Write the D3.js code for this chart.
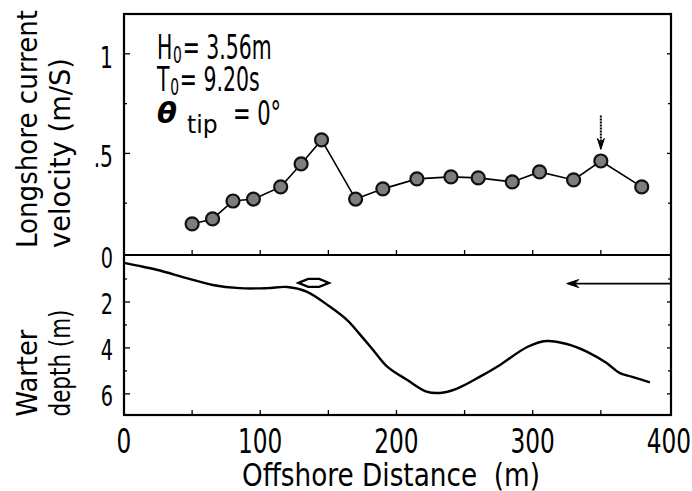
<!DOCTYPE html>
<html>
<head>
<meta charset="utf-8">
<script src="https://cdn.jsdelivr.net/npm/d3@7"></script>
<style>
  html, body { margin: 0; padding: 0; background: #fff; }
  svg { display: block; }
  text { font-family: "DejaVu Sans", "Liberation Sans", sans-serif; fill: #000; white-space: pre; }
</style>
</head>
<body>
<svg id="chart" width="692" height="491"></svg>
<script>
// ---- data ----
const distance = [50, 65, 80, 95, 115, 130, 145, 170, 190, 215, 240, 260, 285, 305, 330, 350, 380];
const velocity = [0.146, 0.171, 0.261, 0.271, 0.332, 0.447, 0.568, 0.271, 0.322, 0.372, 0.382, 0.377, 0.357, 0.407, 0.367, 0.462, 0.332];

const profileX = [0, 10, 24, 46, 65, 85, 105, 120, 134, 151, 164, 173, 183, 193, 208, 222, 232, 244, 261, 276, 296, 310, 325, 340, 354, 364, 373, 386];
const profileDepth = [0.3, 0.42, 0.6, 0.96, 1.26, 1.4, 1.4, 1.35, 1.55, 2.2, 2.8, 3.4, 4.1, 4.8, 5.4, 5.9, 5.96, 5.78, 5.26, 4.74, 3.96, 3.7, 3.83, 4.17, 4.65, 5.1, 5.26, 5.5];

const xTicks = [0, 100, 200, 300, 400];
const xMinorTicks = [50, 100, 150, 200, 250, 300, 350];
const velTicks = [0.5, 1];
const velTickLabels = [".5", "1"];
const velMinorTicks = [0.25, 0.75];
const depthTicks = [0, 2, 4, 6];
const depthMinorTicks = [1, 3, 5];

// annotations (data units)
const peakArrow = { x: 350, from: 0.69, to: 0.52 };
const breakerMark = { x1: 128, x2: 150.5, depth: 1.17 };
const waveArrow = { x1: 401.5, x2: 325, depth: 1.2 };

// ---- scales ----
const svg = d3.select("#chart");
const x = d3.scaleLinear().domain([0, 401.5]).range([124, 671]);
const yV = d3.scaleLinear().domain([0, 1.2]).range([253, 14]);
const yD = d3.scaleLinear().domain([0, 6.92]).range([256, 415]);

const left = x.range()[0], right = x.range()[1];
const top1 = 14, mid = 255, bottom = 415;

// condensed text helper
function ctext(px, py, str, size, sx, anchor, sy) {
  const g = svg.append("g").attr("transform", `translate(${px},${py}) scale(${sx},${sy || 1})`);
  return g.append("text").attr("x", 0).attr("y", 0).attr("font-size", size)
    .attr("text-anchor", anchor || "start").text(str);
}

// ---- frames ----
svg.append("rect").attr("x", left).attr("y", top1).attr("width", right - left).attr("height", bottom - top1)
  .attr("fill", "none").attr("stroke", "#000").attr("stroke-width", 2.2);
svg.append("line").attr("x1", left).attr("x2", right).attr("y1", mid).attr("y2", mid)
  .attr("stroke", "#000").attr("stroke-width", 2.2);

// ---- ticks ----
const tickG = svg.append("g").attr("stroke", "#000").attr("stroke-width", 1.3);
xMinorTicks.forEach(t => {
  tickG.append("line").attr("x1", x(t)).attr("x2", x(t)).attr("y1", mid).attr("y2", mid - 5);
  tickG.append("line").attr("x1", x(t)).attr("x2", x(t)).attr("y1", bottom).attr("y2", bottom - 5);
});
velTicks.forEach(t => {
  tickG.append("line").attr("x1", left).attr("x2", left + 6).attr("y1", yV(t)).attr("y2", yV(t));
  tickG.append("line").attr("x1", right).attr("x2", right - 4).attr("y1", yV(t)).attr("y2", yV(t));
});
velMinorTicks.forEach(t => {
  tickG.append("line").attr("x1", left).attr("x2", left + 3).attr("y1", yV(t)).attr("y2", yV(t));
  tickG.append("line").attr("x1", right).attr("x2", right - 3).attr("y1", yV(t)).attr("y2", yV(t));
});
depthTicks.filter(t => t > 0).forEach(t => {
  tickG.append("line").attr("x1", left).attr("x2", left + 6).attr("y1", yD(t)).attr("y2", yD(t));
  tickG.append("line").attr("x1", right).attr("x2", right - 4).attr("y1", yD(t)).attr("y2", yD(t));
});
depthMinorTicks.forEach(t => {
  tickG.append("line").attr("x1", left).attr("x2", left + 3).attr("y1", yD(t)).attr("y2", yD(t));
  tickG.append("line").attr("x1", right).attr("x2", right - 3).attr("y1", yD(t)).attr("y2", yD(t));
});

// ---- tick labels ----
velTicks.forEach((t, i) => ctext(113, yV(t) + 14, velTickLabels[i], 26, 0.78, "end", 1.15));
depthTicks.forEach(t => ctext(113, yD(t) + 12, String(t), 25, 0.77, "end", 1.16));
xTicks.forEach(t => ctext(x(t), 453, String(t), 28, 0.83, "middle", 1.2));

// ---- axis titles ----
function vtext(cx, cy, str, size, len) {
  svg.append("text").attr("transform", `translate(${cx},${cy}) rotate(-90)`)
    .attr("text-anchor", "middle").attr("font-size", size)
    .attr("textLength", len).attr("lengthAdjust", "spacingAndGlyphs").text(str);
}
vtext(37, 129, "Longshore current", 29, 238);
vtext(70, 153, "velocity (m/S)", 29, 190);
vtext(37, 373, "Warter", 29, 87);
vtext(70, 363, "depth (m)", 29, 107);

svg.append("g").attr("transform", "translate(391,486) scale(1,1.22)")
  .append("text").attr("x", 0).attr("y", 0).attr("text-anchor", "middle")
  .attr("font-size", 26).attr("textLength", 298).attr("lengthAdjust", "spacingAndGlyphs")
  .text("Offshore Distance\u00A0\u00A0(m)");

// ---- annotation text ----
function label(yp, main, sub, rest) {
  const t = ctext(157, yp, "", 28, 0.73, "start", 1.18);
  t.append("tspan").text(main);
  t.append("tspan").attr("font-size", 19).attr("dy", 3).attr("dx", 1).text(sub);
  t.append("tspan").attr("dy", -3).attr("dx", 1).text(rest);
}
label(59, "H", "0", "= 3.56m");
label(91, "T", "0", "= 9.20s");
svg.append("text").attr("x", 157).attr("y", 123).attr("font-size", 29)
  .attr("font-family", "'Liberation Serif', 'DejaVu Serif', serif")
  .attr("font-weight", "bold").attr("font-style", "italic").text("θ");
ctext(187, 133, "tip", 24, 0.98);
ctext(233, 125, "= 0°", 28, 0.75, "start", 1.18);

// ---- velocity series ----
const vData = distance.map((d, i) => ({ x: d, v: velocity[i] }));
svg.append("path").datum(vData)
  .attr("fill", "none").attr("stroke", "#000").attr("stroke-width", 1.6)
  .attr("d", d3.line().x(d => x(d.x)).y(d => yV(d.v)));
svg.append("g").selectAll("circle").data(vData).join("circle")
  .attr("cx", d => x(d.x)).attr("cy", d => yV(d.v)).attr("r", 6.5)
  .attr("fill", "#7d7d7d").attr("stroke", "#111").attr("stroke-width", 2.2);

// ---- depth profile ----
const pData = profileX.map((d, i) => ({ x: d, d: profileDepth[i] }));
svg.append("path").datum(pData)
  .attr("fill", "none").attr("stroke", "#000").attr("stroke-width", 2.4)
  .attr("d", d3.line().x(d => x(d.x)).y(d => yD(d.d)).curve(d3.curveCatmullRom));

// ---- arrows ----
{
  const ax = x(peakArrow.x), y0 = yV(peakArrow.from), y1 = yV(peakArrow.to);
  svg.append("line").attr("x1", ax).attr("x2", ax).attr("y1", y0).attr("y2", y1 - 6)
    .attr("stroke", "#000").attr("stroke-width", 2).attr("stroke-dasharray", "2,1");
  svg.append("path").attr("d", `M${ax - 3.5},${y1 - 11} L${ax},${y1} L${ax + 3.5},${y1 - 11} L${ax},${y1 - 7} Z`)
    .attr("fill", "#000").attr("stroke", "#000").attr("stroke-width", 1);
}
{
  const xa = x(waveArrow.x1), xb = x(waveArrow.x2), ya = yD(waveArrow.depth);
  svg.append("line").attr("x1", xa).attr("x2", xb + 4).attr("y1", ya).attr("y2", ya)
    .attr("stroke", "#000").attr("stroke-width", 1.8);
  svg.append("path").attr("d", `M${xb + 12},${ya - 4} L${xb},${ya} L${xb + 12},${ya + 4} L${xb + 8},${ya} Z`)
    .attr("fill", "#000").attr("stroke", "#000").attr("stroke-width", 1);
}
{
  const xa = x(breakerMark.x1), xb = x(breakerMark.x2), ym = yD(breakerMark.depth);
  const w = xb - xa;
  svg.append("path")
    .attr("d", `M${xa},${ym} L${xa + w * 0.32},${ym - 4} L${xb - w * 0.32},${ym - 4} L${xb},${ym} L${xb - w * 0.32},${ym + 4} L${xa + w * 0.32},${ym + 4} Z`)
    .attr("fill", "#fff").attr("stroke", "#000").attr("stroke-width", 2.2);
}
</script>
</body>
</html>
